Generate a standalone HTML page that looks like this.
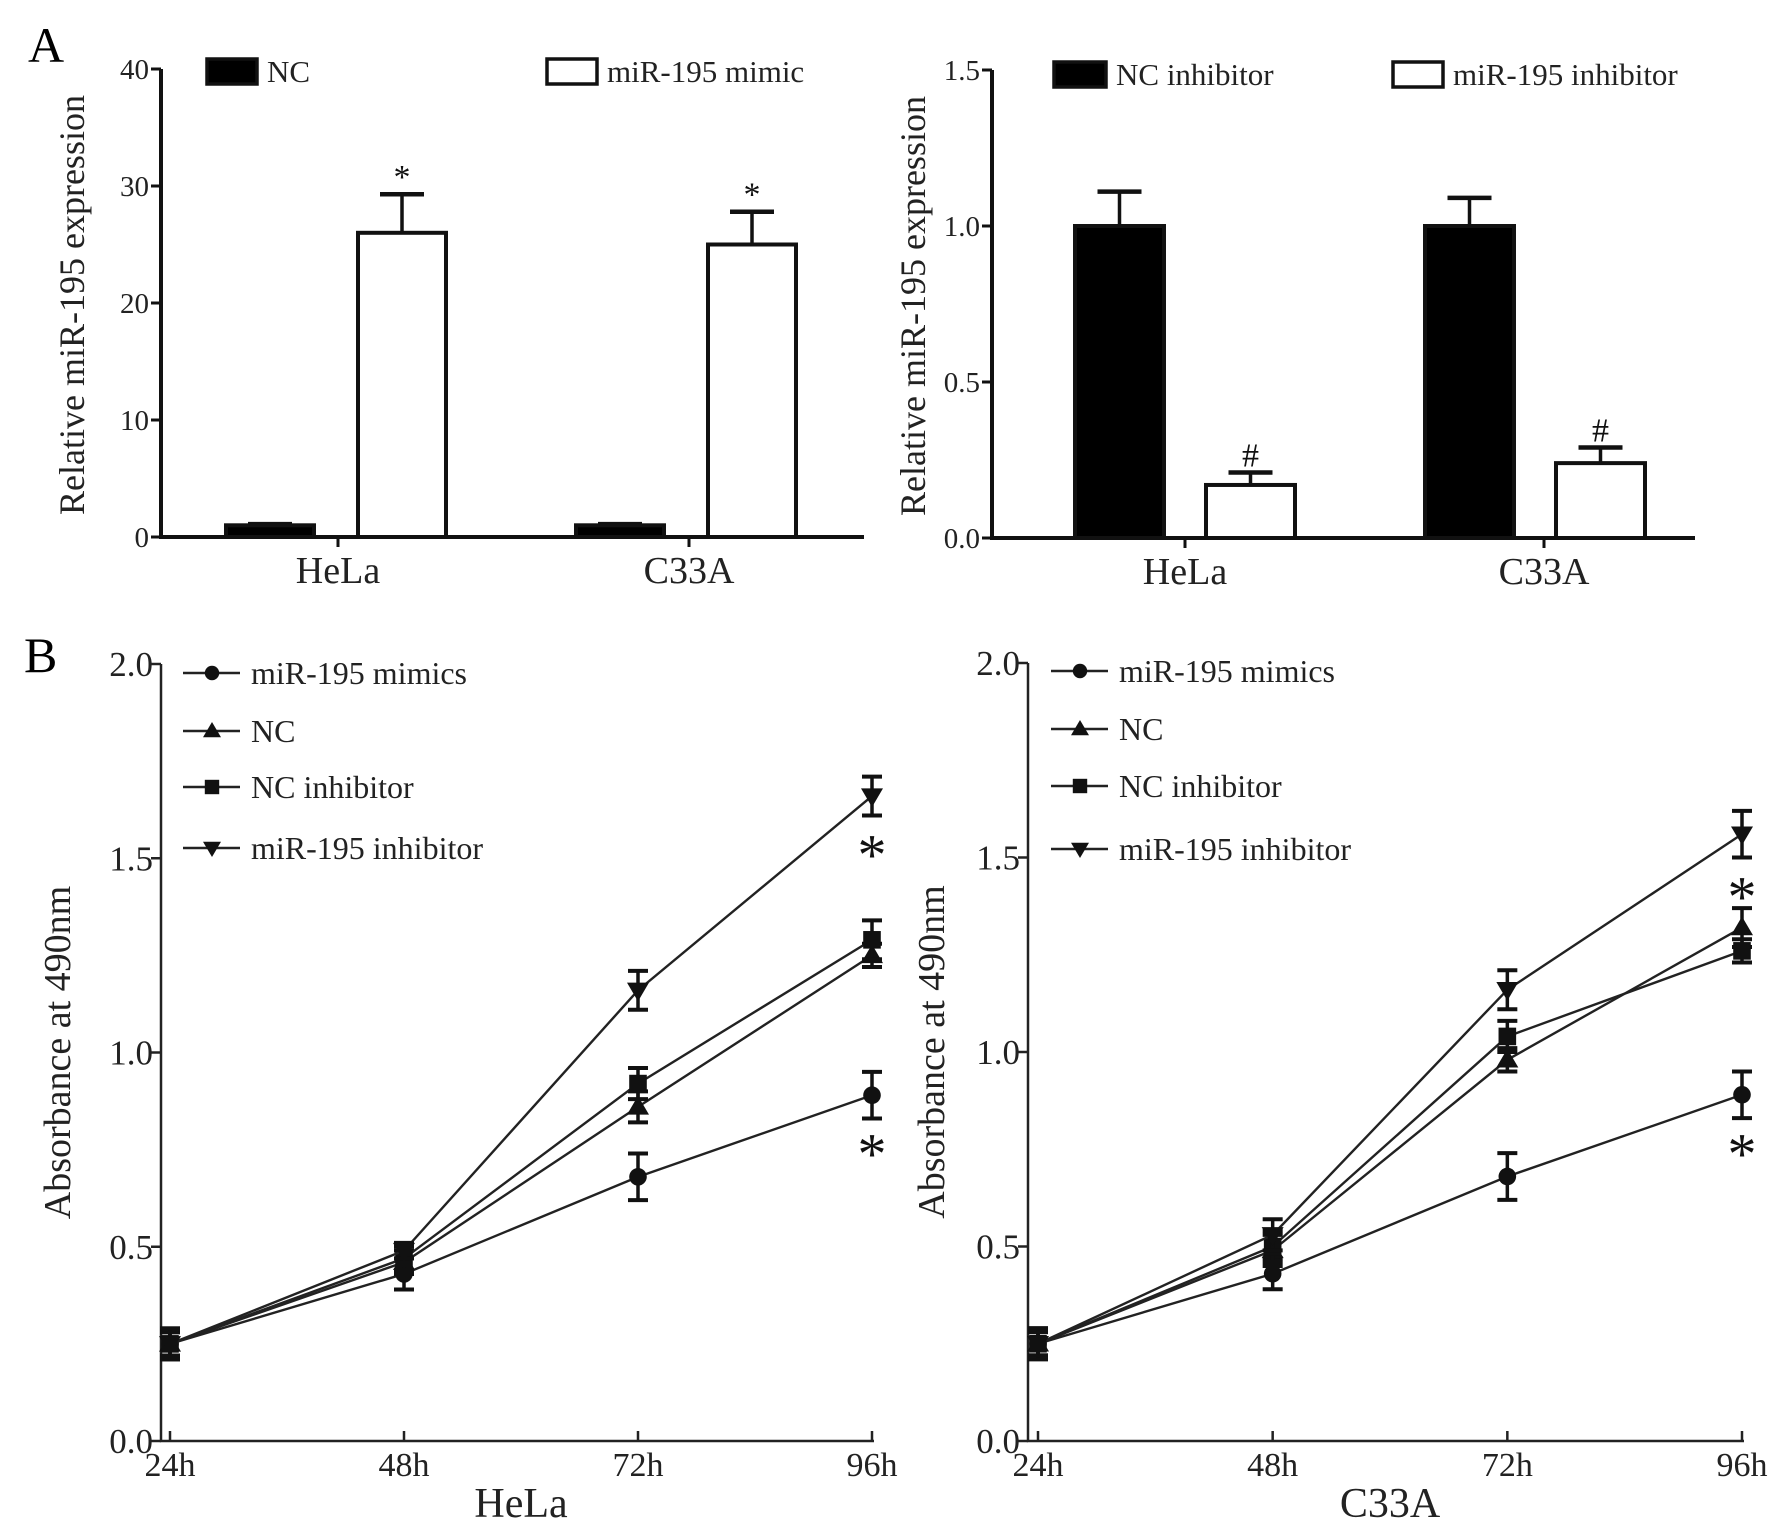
<!DOCTYPE html>
<html><head><meta charset="utf-8">
<style>
html,body{margin:0;padding:0;background:#fff;}
svg{display:block;font-family:"Liberation Serif","Times New Roman",serif;}
</style></head>
<body>
<svg id="fig" width="1772" height="1527" viewBox="0 0 1772 1527" xmlns="http://www.w3.org/2000/svg">
<text x="28" y="62" font-size="50">A</text>
<text x="24" y="672" font-size="50">B</text>
</svg>
<script>
// ===== Panel A data =====
const barCats = ["HeLa", "C33A"];
const aLeftNC = [1.0, 1.0];
const aLeftNCErr = [0.1, 0.1];
const aLeftMimic = [26.0, 25.0];
const aLeftMimicErr = [3.3, 2.8];
const aLeftTicks = [0, 10, 20, 30, 40];
const aRightNC = [1.0, 1.0];
const aRightNCErr = [0.11, 0.09];
const aRightInh = [0.17, 0.24];
const aRightInhErr = [0.04, 0.05];
const aRightTicks = [0.0, 0.5, 1.0, 1.5];
// ===== Panel B data =====
const timeCats = ["24h", "48h", "72h", "96h"];
const seriesNames = ["miR-195 mimics", "NC", "NC inhibitor", "miR-195 inhibitor"];
const bTicks = [0.0, 0.5, 1.0, 1.5, 2.0];
const helaMimics = [0.25, 0.43, 0.68, 0.89];
const helaMimicsErr = [0.04, 0.04, 0.06, 0.06];
const helaNC = [0.25, 0.46, 0.86, 1.25];
const helaNCErr = [0.03, 0.03, 0.04, 0.03];
const helaNCInh = [0.25, 0.47, 0.92, 1.29];
const helaNCInhErr = [0.04, 0.03, 0.04, 0.05];
const helaInh = [0.25, 0.49, 1.16, 1.66];
const helaInhErr = [0.03, 0.02, 0.05, 0.05];
const c33Mimics = [0.25, 0.43, 0.68, 0.89];
const c33MimicsErr = [0.04, 0.04, 0.06, 0.06];
const c33NC = [0.25, 0.49, 0.98, 1.32];
const c33NCErr = [0.03, 0.04, 0.03, 0.05];
const c33NCInh = [0.25, 0.50, 1.04, 1.26];
const c33NCInhErr = [0.04, 0.04, 0.04, 0.03];
const c33Inh = [0.25, 0.53, 1.16, 1.56];
const c33InhErr = [0.03, 0.04, 0.05, 0.06];

const NS = "http://www.w3.org/2000/svg";
const svg = document.getElementById("fig");
function mk(tag, attrs, parent, text){
  const e = document.createElementNS(NS, tag);
  for (const k in attrs) e.setAttribute(k, attrs[k]);
  if (text !== undefined) e.textContent = text;
  (parent || svg).appendChild(e);
  return e;
}
function fmt(v, dec){ return dec ? v.toFixed(1) : String(v); }

function barPanel(o){
  const g = mk("g", {});
  
  
  const y = v => o.y0 - (v - o.min) / (o.max - o.min) * (o.y0 - o.y1);
  const ax = mk("path", {d:`M${o.ax},${o.y1} V${o.y0} H${o.xEnd}`, stroke:"#111", "stroke-width":4, fill:"none"}, g);
  
  
  o.ticks.forEach(t => {
    const ty = y(t);
    mk("line", {x1:o.ax-10, x2:o.ax, y1:ty, y2:ty, stroke:"#111", "stroke-width":3}, g);
    const tl = mk("text", {x:o.ax-12, y:ty+10, "font-size":29, "text-anchor":"end", fill:"#222"}, g, fmt(t, o.dec));
    
    
  });
  const yt = mk("text", {transform:`translate(${o.titleX},${(o.y0+o.y1)/2+2}) rotate(-90)`, "font-size":36, "text-anchor":"middle", fill:"#222"}, g, "Relative miR-195 expression");
  
  
  barCats.forEach((c, i) => {
    const base = o.groupX[i];
    const bars = [[o.s1[i], o.e1[i], "#000", base], [o.s2[i], o.e2[i], "#fff", base + o.gap]];
    bars.forEach((b, j) => {
      const top = y(b[0]);
      const cx = b[3] + o.bw/2;
      const ex = y(b[0] + b[1]);
      mk("line", {x1:cx, x2:cx, y1:top, y2:ex, stroke:"#111", "stroke-width":3.5}, g);
      mk("line", {x1:cx-22, x2:cx+22, y1:ex, y2:ex, stroke:"#111", "stroke-width":4.5}, g);
      const r = mk("rect", {x:b[3], y:top, width:o.bw, height:o.y0-top, fill:b[2], stroke:"#111", "stroke-width":4}, g);
      
      
      if (j === 1) {
        const st = mk("text", {x:cx, y:ex-6, "font-size":34, "text-anchor":"middle", fill:"#111"}, g, o.sig);
        
        
      }
    });
    const tx = o.catX[i];
    mk("line", {x1:tx, x2:tx, y1:o.y0, y2:o.y0+10, stroke:"#111", "stroke-width":3}, g);
    const cl = mk("text", {x:tx, y:o.y0+46, "font-size":38, "text-anchor":"middle", fill:"#222"}, g, c);
    
    
  });
  o.legend.forEach(L => {
    const lr = mk("rect", {x:L.x, y:L.y, width:L.w, height:25, fill:L.fill, stroke:"#111", "stroke-width":3.5}, g);
    
    
    const lt = mk("text", {x:L.x+L.w+10, y:L.y+23, "font-size":31, fill:"#222"}, g, L.label);
    
    
  });
}

barPanel({name:"chart-a-mimic", ax:161, xEnd:864, y0:537, y1:69, min:0, max:40, ticks:aLeftTicks, dec:false,
  titleX:84, groupX:[226,576], gap:132, bw:88, s1:aLeftNC, e1:aLeftNCErr, s2:aLeftMimic, e2:aLeftMimicErr,
  catX:[338,689], sig:"*",
  legend:[{x:207,y:59,w:50,fill:"#000",label:"NC"},{x:547,y:59,w:50,fill:"#fff",label:"miR-195 mimic"}]});
barPanel({name:"chart-a-inhibitor", ax:992, xEnd:1695, y0:538, y1:70, min:0, max:1.5, ticks:aRightTicks, dec:true,
  titleX:925, groupX:[1075,1425], gap:131, bw:89, s1:aRightNC, e1:aRightNCErr, s2:aRightInh, e2:aRightInhErr,
  catX:[1185,1544], sig:"#",
  legend:[{x:1054,y:62,w:52,fill:"#000",label:"NC inhibitor"},{x:1393,y:62,w:50,fill:"#fff",label:"miR-195 inhibitor"}]});

function marker(g, kind, x, y, s){
  let e;
  if (kind === 0) e = mk("circle", {cx:x, cy:y, r:s*0.8, fill:"#111"}, g);
  else if (kind === 1) e = mk("polygon", {points:`${x},${y-s} ${x-s},${y+s*0.7} ${x+s},${y+s*0.7}`, fill:"#111"}, g);
  else if (kind === 2) e = mk("rect", {x:x-s*0.8, y:y-s*0.8, width:s*1.6, height:s*1.6, fill:"#111"}, g);
  else e = mk("polygon", {points:`${x},${y+s} ${x-s},${y-s*0.7} ${x+s},${y-s*0.7}`, fill:"#111"}, g);
  
  
}

function linePanel(o){
  const g = mk("g", {});
  
  
  const y = v => o.y0 - v / 2.0 * (o.y0 - o.y1);
  const x = i => o.xs + i * (o.xe - o.xs) / (timeCats.length - 1);
  const ax = mk("path", {d:`M${o.ax},${o.y1} V${o.y0} H${o.xe+2}`, stroke:"#222", "stroke-width":2.5, fill:"none"}, g);
  
  
  bTicks.forEach(t => {
    const ty = y(t);
    mk("line", {x1:o.ax-10, x2:o.ax, y1:ty, y2:ty, stroke:"#222", "stroke-width":2.5}, g);
    const tl = mk("text", {x:o.ax-8, y:ty+12, "font-size":35, "text-anchor":"end", fill:"#222"}, g, t.toFixed(1));
    
    
  });
  timeCats.forEach((c, i) => {
    mk("line", {x1:x(i), x2:x(i), y1:o.y0, y2:o.y0-10, stroke:"#222", "stroke-width":2.5}, g);
    const tl = mk("text", {x:x(i), y:o.y0+35, "font-size":34, "text-anchor":"middle", fill:"#222"}, g, c);
    
    
  });
  const xt = mk("text", {x:(o.xs+o.xe)/2, y:o.y0+76, "font-size":42, "text-anchor":"middle", fill:"#222"}, g, o.title);
  
  
  const yt = mk("text", {transform:`translate(${o.titleX},${(o.y0+o.y1)/2}) rotate(-90)`, "font-size":38, "text-anchor":"middle", fill:"#222"}, g, "Absorbance at 490nm");
  
  
  o.series.forEach((s, k) => {
    const pts = s.v.map((v, i) => `${x(i)},${y(v)}`).join(" ");
    const pl = mk("polyline", {points:pts, fill:"none", stroke:"#222", "stroke-width":2.4}, g);
    
    
    s.v.forEach((v, i) => {
      const hi = y(v + s.e[i]), lo = y(v - s.e[i]);
      mk("line", {x1:x(i), x2:x(i), y1:hi, y2:lo, stroke:"#111", "stroke-width":3.5}, g);
      mk("line", {x1:x(i)-10, x2:x(i)+10, y1:hi, y2:hi, stroke:"#111", "stroke-width":4}, g);
      mk("line", {x1:x(i)-10, x2:x(i)+10, y1:lo, y2:lo, stroke:"#111", "stroke-width":4}, g);
      marker(g, k, x(i), y(v), 11);
    });
  });
  o.stars.forEach(sv => {
    const st = mk("text", {x:x(3), y:y(sv)+28, "font-size":58, "text-anchor":"middle", fill:"#111"}, g, "*");
    
    
  });
  seriesNames.forEach((n, k) => {
    const ly = o.legY[k];
    mk("line", {x1:o.legX, x2:o.legX+57, y1:ly, y2:ly, stroke:"#222", "stroke-width":2.5}, g);
    marker(g, k, o.legX+29, ly, 9);
    const lt = mk("text", {x:o.legX+68, y:ly+11, "font-size":32, fill:"#222"}, g, n);
    
    
  });
}

linePanel({name:"chart-b-hela", ax:161, y0:1441, y1:664, xs:170, xe:872, title:"HeLa", titleX:70,
  series:[{v:helaMimics,e:helaMimicsErr},{v:helaNC,e:helaNCErr},{v:helaNCInh,e:helaNCInhErr},{v:helaInh,e:helaInhErr}],
  stars:[1.53, 0.76], legX:183, legY:[673,731,787,848]});
linePanel({name:"chart-b-c33a", ax:1028, y0:1441, y1:663, xs:1038, xe:1742, title:"C33A", titleX:944,
  series:[{v:c33Mimics,e:c33MimicsErr},{v:c33NC,e:c33NCErr},{v:c33NCInh,e:c33NCInhErr},{v:c33Inh,e:c33InhErr}],
  stars:[1.42, 0.76], legX:1051, legY:[671,729,786,849]});
</script>
</body></html>
